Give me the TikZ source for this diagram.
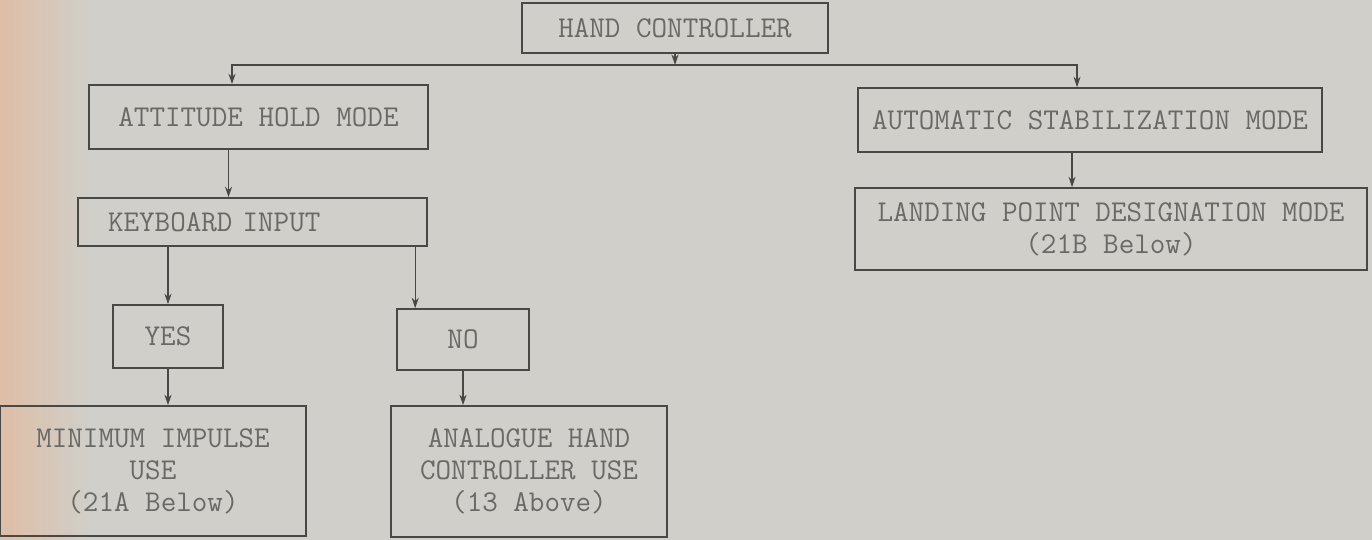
\documentclass[tikz,border=0pt]{standalone}
\usepackage{fontspec}
\usepackage{tikz}
\usetikzlibrary{arrows.meta,positioning,calc}
\usepackage{xcolor}

\definecolor{paper}{RGB}{208,207,202}
\definecolor{peach}{RGB}{222,190,166}
\definecolor{inkline}{RGB}{72,72,70}
\definecolor{inktext}{RGB}{105,105,102}

\tikzset{
    box/.style={draw=inkline, line width=0.9pt, align=center, inner sep=0pt,
                text=inktext, font=\ttfamily\fontsize{17.2}{18.2}\selectfont},
    arrow/.style={draw=inkline, line width=0.7pt,
                  -{Stealth[length=6pt,width=4pt]}}
}

\begin{document}
\begin{tikzpicture}[x=0.02cm, y=-0.02cm]
    % Paper
    \useasboundingbox (0,0) rectangle (1372,540);
    \fill[paper] (0,0) rectangle (1372,540);
    \shade[left color=peach, right color=paper] (0,0) rectangle (90,540);

    % Boxes
    \node[box, minimum width=6.12cm, minimum height=1.0cm] (hc) at (675,28)
        {HAND CONTROLLER};
    \node[box, minimum width=6.78cm, minimum height=1.28cm] (att) at (258.5,117)
        {ATTITUDE HOLD MODE};
    \node[box, minimum height=0.96cm, inner xsep=0.6cm, text width=5.78cm,
          align=left] (kbd) at (252.5,222)
        {KEYBOARD INPUT};
    \node[box, minimum width=2.2cm, minimum height=1.26cm] (yes) at (168,336.5)
        {YES};
    \node[box, minimum width=2.64cm, minimum height=1.22cm] (no) at (463,339.5)
        {NO};
    \node[box, minimum width=6.12cm, minimum height=2.6cm] (minimp) at (153,471)
        {MINIMUM IMPULSE\\USE\\(21A Below)};
    \node[box, minimum width=5.52cm, minimum height=2.62cm] (analog) at (529,471.5)
        {ANALOGUE HAND\\CONTROLLER USE\\(13 Above)};
    \node[box, minimum width=9.28cm, minimum height=1.28cm] (autostab) at (1090,120)
        {AUTOMATIC STABILIZATION MODE};
    \node[box, minimum width=10.24cm, minimum height=1.64cm] (lpd) at (1111,229)
        {LANDING POINT DESIGNATION MODE\\(21B Below)};

    % Branch points
    \coordinate (split) at (hc.south |- 0,65);
    \coordinate (attin) at (232,65);
    \coordinate (autoin) at ([xshift=-0.26cm]autostab.north);
    \coordinate (attout) at ([xshift=-0.6cm]att.south);
    \coordinate (noin) at ([xshift=0.38cm]no.north west);
    \coordinate (autoout) at ([xshift=-0.36cm]autostab.south);

    % Connectors
    \draw[arrow] (hc.south) -- (split);
    \draw[arrow] (split) -| (att.north -| attin);
    \draw[arrow] (split) -| (autoin);
    \draw[arrow] (attout) -- (attout |- kbd.north);
    \draw[arrow] (kbd.south -| yes.north) -- (yes.north);
    \draw[arrow] (kbd.south -| noin) -- (noin);
    \draw[arrow] (yes.south) -- (yes.south |- minimp.north);
    \draw[arrow] (no.south) -- (no.south |- analog.north);
    \draw[arrow] (autoout) -- (autoout |- lpd.north);
\end{tikzpicture}
\end{document}
